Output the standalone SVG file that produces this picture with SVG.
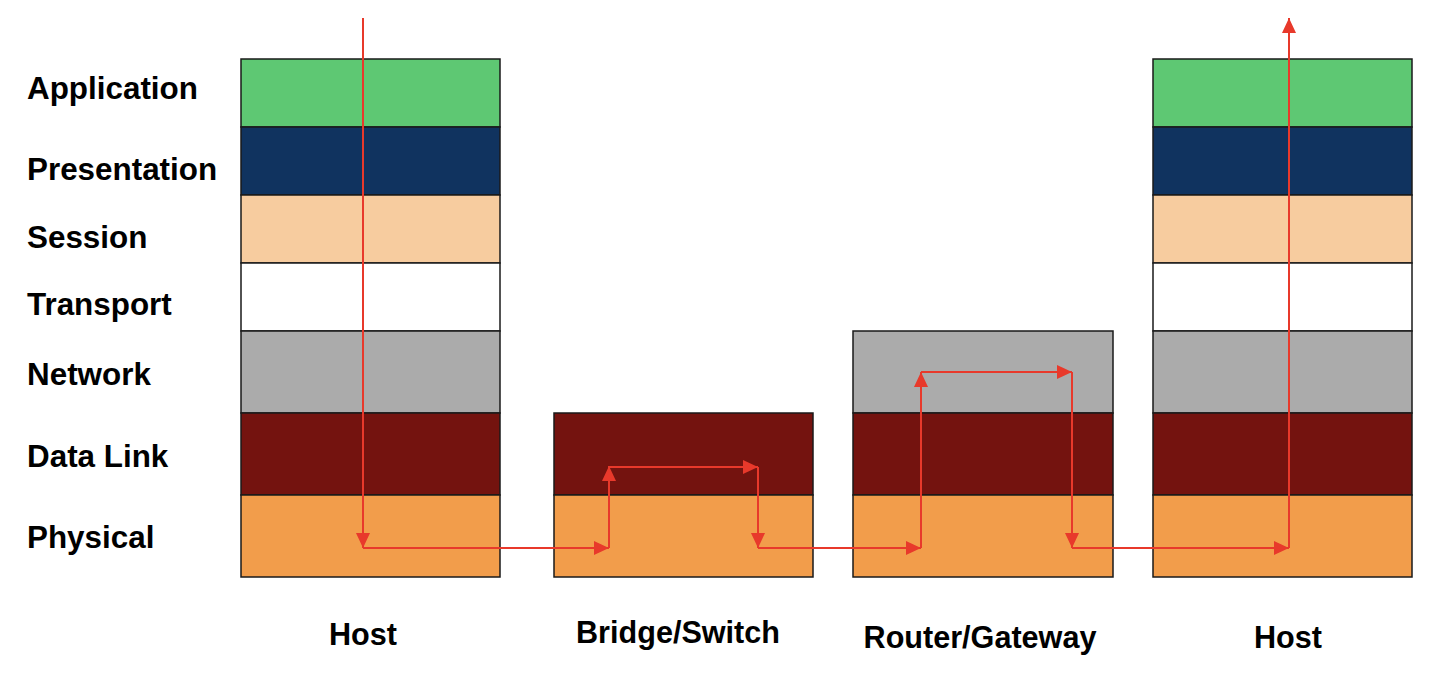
<svg xmlns="http://www.w3.org/2000/svg" width="1444" height="682" viewBox="0 0 1444 682">
  <style>
    .lay { stroke: #1a1a1a; stroke-width: 1.5; }
    .app { fill: #5ec873; }
    .pre { fill: #10335f; }
    .ses { fill: #f7cc9f; }
    .tra { fill: #ffffff; }
    .net { fill: #ababab; }
    .dl { fill: #74130f; }
    .phy { fill: #f29d4b; }
    .lbl { font-family: "Liberation Sans", Arial, sans-serif; font-weight: bold; font-size: 31.4px; fill: #000; }
    .dev { font-family: "Liberation Sans", Arial, sans-serif; font-weight: bold; font-size: 30.6px; fill: #000; text-anchor: middle; }
    .flow { stroke: #e8392b; stroke-width: 2; fill: none; marker-end: url(#ah); }
  </style>
  <defs>
    <marker id="ah" markerUnits="userSpaceOnUse" markerWidth="15" markerHeight="14" refX="15" refY="7" orient="auto" viewBox="0 0 15 14">
      <path d="M0,0 L15,7 L0,14 z" fill="#e8392b"/>
    </marker>
  </defs>
  <rect width="1444" height="682" fill="#ffffff"/>

  <g id="layer-labels">
    <text class="lbl" x="27" y="99">Application</text>
    <text class="lbl" x="27" y="180">Presentation</text>
    <text class="lbl" x="27" y="248">Session</text>
    <text class="lbl" x="27" y="315">Transport</text>
    <text class="lbl" x="27" y="385">Network</text>
    <text class="lbl" x="27" y="467">Data Link</text>
    <text class="lbl" x="27" y="548">Physical</text>
  </g>

  <g id="host-left">
    <rect class="lay app" x="241" y="59" width="259" height="68"/>
    <rect class="lay pre" x="241" y="127" width="259" height="68"/>
    <rect class="lay ses" x="241" y="195" width="259" height="68"/>
    <rect class="lay tra" x="241" y="263" width="259" height="68"/>
    <rect class="lay net" x="241" y="331" width="259" height="82"/>
    <rect class="lay dl" x="241" y="413" width="259" height="82"/>
    <rect class="lay phy" x="241" y="495" width="259" height="82"/>
    <text class="dev" x="363" y="645">Host</text>
  </g>

  <g id="bridge-switch">
    <rect class="lay dl" x="554" y="413" width="259" height="82"/>
    <rect class="lay phy" x="554" y="495" width="259" height="82"/>
    <text class="dev" x="678" y="643">Bridge/Switch</text>
  </g>

  <g id="router-gateway">
    <rect class="lay net" x="853" y="331" width="260" height="82"/>
    <rect class="lay dl" x="853" y="413" width="260" height="82"/>
    <rect class="lay phy" x="853" y="495" width="260" height="82"/>
    <text class="dev" x="980" y="648">Router/Gateway</text>
  </g>

  <g id="host-right">
    <rect class="lay app" x="1153" y="59" width="259" height="68"/>
    <rect class="lay pre" x="1153" y="127" width="259" height="68"/>
    <rect class="lay ses" x="1153" y="195" width="259" height="68"/>
    <rect class="lay tra" x="1153" y="263" width="259" height="68"/>
    <rect class="lay net" x="1153" y="331" width="259" height="82"/>
    <rect class="lay dl" x="1153" y="413" width="259" height="82"/>
    <rect class="lay phy" x="1153" y="495" width="259" height="82"/>
    <text class="dev" x="1288" y="648">Host</text>
  </g>

  <g id="connectors">
    <path class="flow" d="M363,18 L363,548"/>
    <path class="flow" d="M363,548 L609,548"/>
    <path class="flow" d="M609,548 L609,466"/>
    <path class="flow" d="M609,467 L758,467"/>
    <path class="flow" d="M758,467 L758,548"/>
    <path class="flow" d="M758,548 L921,548"/>
    <path class="flow" d="M921,548 L921,372"/>
    <path class="flow" d="M921,372 L1072,372"/>
    <path class="flow" d="M1072,372 L1072,548"/>
    <path class="flow" d="M1072,548 L1289,548"/>
    <path class="flow" d="M1289,548 L1289,18"/>
  </g>
</svg>
